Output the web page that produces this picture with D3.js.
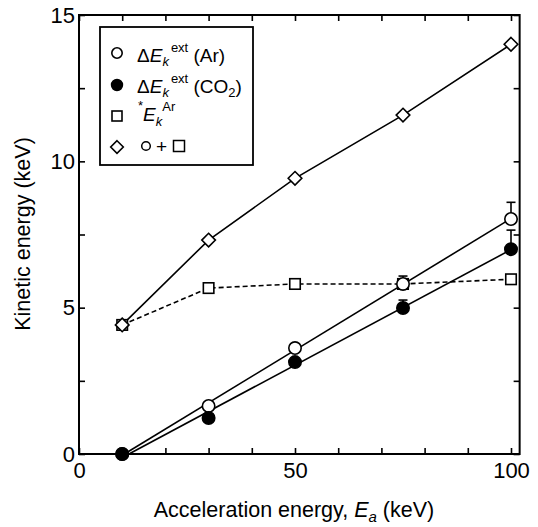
<!DOCTYPE html>
<html>
<head>
<meta charset="utf-8">
<script src="https://cdn.jsdelivr.net/npm/d3@7"></script>
<style>
  body { margin: 0; background: #fff; }
  svg { display: block; }
  text { font-family: "Liberation Sans", Arial, sans-serif; fill: #000; }
</style>
</head>
<body>
<svg id="chart" width="538" height="527"></svg>
<script>
// acceleration energy (keV)
const energy = [10, 30, 50, 75, 100];
// extra kinetic energy, Ar target, with upper error
const dEkAr = [0, 1.64, 3.62, 5.81, 8.03];
const dEkArErr = [0, 0, 0, 0.27, 0.57];
// extra kinetic energy, CO2 target
const dEkCO2 = [0, 1.23, 3.14, 4.99, 7.0];
const dEkCO2Err = [0, 0, 0, 0.27, 0.65];
// *Ek Ar
const ekAr = [4.41, 5.67, 5.81, 5.81, 5.97];
// circle + square
const ekSum = [4.41, 7.31, 9.42, 11.58, 14.0];

const xTicks = [0, 10, 20, 30, 40, 50, 60, 70, 80, 90, 100];
const yTicks = [0, 2.5, 5, 7.5, 10, 12.5, 15];

const svg = d3.select("#chart");
const L = 79, T = 15, B = 454;

const x = d3.scaleLinear().domain([0, 102]).range([L, L + 4.32 * 102]);
const y = d3.scaleLinear().domain([0, 15]).range([B, T]);
const R = x(102);

// simple least-squares fit
function fit(xs, ys) {
  const mx = d3.mean(xs), my = d3.mean(ys);
  let sxy = 0, sxx = 0;
  xs.forEach((v, i) => { sxy += (v - mx) * (ys[i] - my); sxx += (v - mx) * (v - mx); });
  const m = sxy / sxx;
  return { m: m, b: my - m * mx };
}

// axes, ticks pointing inward
const fs = 22;
const gx = svg.append("g").attr("transform", `translate(0,${B})`)
  .call(d3.axisBottom(x).tickValues(xTicks).tickSizeInner(-6).tickSizeOuter(0).tickPadding(8.5)
    .tickFormat(d => d % 50 === 0 ? d : ""));
const gy = svg.append("g").attr("transform", `translate(${L},0)`)
  .call(d3.axisLeft(y).tickValues(yTicks).tickSizeInner(-6).tickSizeOuter(0).tickPadding(4)
    .tickFormat(d => d % 5 === 0 ? d : ""));
const gt = svg.append("g").attr("transform", `translate(0,${T})`)
  .call(d3.axisTop(x).tickValues(xTicks).tickSizeInner(-6).tickSizeOuter(0).tickFormat(""));
const gr = svg.append("g").attr("transform", `translate(${R},0)`)
  .call(d3.axisRight(y).tickValues(yTicks).tickSizeInner(-6).tickSizeOuter(0).tickFormat(""));

[gx, gy, gt, gr].forEach(g => {
  g.select(".domain").remove();
  g.selectAll(".tick line").attr("stroke", "#000").attr("stroke-width", 1.6);
  g.selectAll("text").attr("font-size", fs).attr("font-family", "Liberation Sans, Arial, sans-serif").attr("fill", "#000");
});

svg.append("rect")
  .attr("x", L).attr("y", T).attr("width", R - L).attr("height", B - T)
  .attr("fill", "none").attr("stroke", "#000").attr("stroke-width", 2);

// axis titles
const xt = svg.append("text").attr("x", 294).attr("y", 517).attr("text-anchor", "middle").attr("font-size", 21.5);
xt.append("tspan").text("Acceleration energy, ");
xt.append("tspan").attr("font-style", "italic").text("E");
xt.append("tspan").attr("font-style", "italic").attr("font-size", 15).attr("dy", 5).text("a");
xt.append("tspan").attr("dy", -5).text(" (keV)");

svg.append("text").attr("transform", "translate(30,234) rotate(-90)")
  .attr("text-anchor", "middle").attr("font-size", 21.5).text("Kinetic energy (keV)");

// fitted lines for the two extra-energy series
const lineG = svg.append("g").attr("fill", "none").attr("stroke", "#000").attr("stroke-width", 1.6);
[dEkAr, dEkCO2].forEach(vals => {
  const f = fit(energy, vals);
  const x0 = -f.b / f.m, x1 = 100;
  lineG.append("line")
    .attr("x1", x(x0)).attr("y1", y(0))
    .attr("x2", x(x1)).attr("y2", y(f.m * x1 + f.b));
});

const pts = vals => energy.map((e, i) => [e, vals[i]]);
const line = d3.line().x(d => x(d[0])).y(d => y(d[1]));

lineG.append("path").attr("d", line(pts(ekAr))).attr("stroke-dasharray", "5,3");
lineG.append("path").attr("d", line(pts(ekSum)));

// error bars (upper only)
const errG = svg.append("g").attr("stroke", "#000").attr("stroke-width", 1.6);
[[dEkAr, dEkArErr], [dEkCO2, dEkCO2Err]].forEach(([vals, errs]) => {
  energy.forEach((e, i) => {
    if (!errs[i]) return;
    const top = y(vals[i] + errs[i]);
    errG.append("line").attr("x1", x(e)).attr("x2", x(e)).attr("y1", y(vals[i])).attr("y2", top);
    errG.append("line").attr("x1", x(e) - 4.5).attr("x2", x(e) + 4.5).attr("y1", top).attr("y2", top);
  });
});

// markers
const sq = 10.5, dia = 6.8, rad = 6.2;
svg.append("g").selectAll("rect").data(pts(ekAr)).join("rect")
  .attr("x", d => x(d[0]) - sq / 2).attr("y", d => y(d[1]) - sq / 2)
  .attr("width", sq).attr("height", sq)
  .attr("fill", "#fff").attr("stroke", "#000").attr("stroke-width", 1.6);

const diamond = (cx, cy, s) => `M${cx},${cy - s}L${cx + s},${cy}L${cx},${cy + s}L${cx - s},${cy}Z`;
svg.append("g").selectAll("path").data(pts(ekSum)).join("path")
  .attr("d", d => diamond(x(d[0]), y(d[1]), dia))
  .attr("fill", "#fff").attr("stroke", "#000").attr("stroke-width", 1.6);

svg.append("g").selectAll("circle").data(pts(dEkAr)).join("circle")
  .attr("cx", d => x(d[0])).attr("cy", d => y(d[1])).attr("r", rad)
  .attr("fill", "#fff").attr("stroke", "#000").attr("stroke-width", 1.6);

svg.append("g").selectAll("circle").data(pts(dEkCO2)).join("circle")
  .attr("cx", d => x(d[0])).attr("cy", d => y(d[1])).attr("r", rad)
  .attr("fill", "#000").attr("stroke", "#000").attr("stroke-width", 1.6);

// legend
const lg = svg.append("g");
lg.append("rect").attr("x", 100).attr("y", 27).attr("width", 153).attr("height", 138)
  .attr("fill", "#fff").attr("stroke", "#000").attr("stroke-width", 1.8);

const mx = 117, lfs = 19, sfs = 13;
lg.append("circle").attr("cx", mx).attr("cy", 53).attr("r", 5.2)
  .attr("fill", "#fff").attr("stroke", "#000").attr("stroke-width", 1.6);
lg.append("circle").attr("cx", mx).attr("cy", 85).attr("r", 5.4)
  .attr("fill", "#000").attr("stroke", "#000").attr("stroke-width", 1.6);
lg.append("rect").attr("x", mx - 5).attr("y", 111).attr("width", 10).attr("height", 10)
  .attr("fill", "#fff").attr("stroke", "#000").attr("stroke-width", 1.6);
lg.append("path").attr("d", diamond(mx, 147, 6.3))
  .attr("fill", "#fff").attr("stroke", "#000").attr("stroke-width", 1.6);

function deltaLabel(yb, tail) {
  const t = lg.append("text").attr("x", 137).attr("y", yb).attr("font-size", lfs);
  t.append("tspan").text("\u0394");
  t.append("tspan").attr("font-style", "italic").text("E");
  t.append("tspan").attr("font-style", "italic").attr("font-size", sfs).attr("dy", 4).text("k");
  t.append("tspan").attr("font-size", sfs).attr("dx", 2).attr("dy", -14).text("ext");
  t.append("tspan").attr("dy", 10).text(" (");
  return t;
}
deltaLabel(62).append("tspan").text("Ar)");
const r2 = deltaLabel(93);
r2.append("tspan").text("CO");
r2.append("tspan").attr("font-size", sfs).attr("dy", 4).text("2");
r2.append("tspan").attr("dy", -4).text(")");

const r3 = lg.append("text").attr("x", 138).attr("y", 121).attr("font-size", lfs);
r3.append("tspan").attr("font-size", sfs).attr("dy", -11).text("*");
r3.append("tspan").attr("font-style", "italic").attr("dy", 11).text("E");
r3.append("tspan").attr("font-style", "italic").attr("font-size", sfs).attr("dy", 5).text("k");
r3.append("tspan").attr("font-size", sfs).attr("dy", -15).text("Ar");

lg.append("circle").attr("cx", 146).attr("cy", 146).attr("r", 4.3)
  .attr("fill", "#fff").attr("stroke", "#000").attr("stroke-width", 1.5);
lg.append("text").attr("x", 161.5).attr("y", 152.5).attr("text-anchor", "middle").attr("font-size", lfs).text("+");
lg.append("rect").attr("x", 173.5).attr("y", 140.5).attr("width", 11).attr("height", 11)
  .attr("fill", "#fff").attr("stroke", "#000").attr("stroke-width", 1.5);
</script>
</body>
</html>
